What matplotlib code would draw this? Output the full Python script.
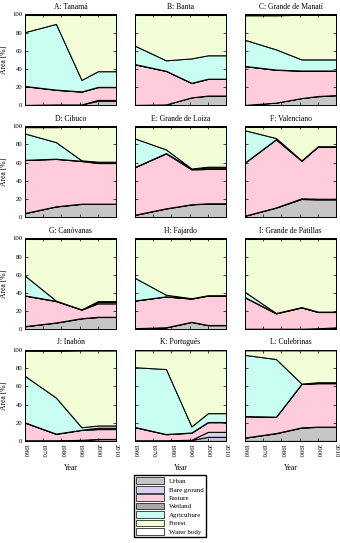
import matplotlib
matplotlib.use("Agg")
from matplotlib import pyplot as plt
from matplotlib.patches import Patch

plt.rcParams['font.family'] = ['Liberation Serif', 'DejaVu Serif']
plt.rcParams['font.size'] = 5

years = [1960, 1977, 1991, 2000, 2010]
watersheds = ["A: Tanamá", "B: Banta", "C: Grande de Manatí",
              "D: Cibuco", "E: Grande de Loíza", "F: Valenciano",
              "G: Canóvanas", "H: Fajardo", "I: Grande de Patillas",
              "J: Inabón", "K: Portugués", "L: Culebrinas"]
classes = ["Urban", "Bare ground", "Pasture", "Wetland",
           "Agriculture", "Forest", "Water body"]
colors = ["#c6c6c6", "#d8d0f2", "#ffccdb", "#a8a8a8",
          "#c8fff0", "#f2ffd6", "#ffffff"]

# Area share [%] per watershed (rows) and year (columns)
urban = [[0.5, 1, 1, 5, 5],
         [0.5, 1, 8.8, 10.5, 10.5],
         [0.5, 3, 8, 10, 11],
         [4.4, 11.7, 14.6, 14.6, 14.6],
         [2.5, 9.5, 14, 15, 15],
         [1.5, 10.5, 20, 19.5, 19.5],
         [3.3, 7.3, 12, 13.5, 13.5],
         [1, 2, 8, 4.5, 4.5],
         [0.5, 0.5, 0.5, 1, 2],
         [0.5, 0.5, 1, 2, 2],
         [0.5, 0.5, 1, 4.5, 4.5],
         [3.5, 8.4, 14.6, 15.4, 15.4]]
bare = [[0, 0, 0, 1, 1],
        [0, 0, 0, 0.3, 0.3],
        [0, 0, 0, 0.3, 0.3],
        [0.3, 0.3, 0.3, 0.3, 0.3],
        [0.3, 0.3, 0.3, 0.3, 0.3],
        [0.3, 0.3, 0.8, 0.8, 0.8],
        [0.3, 0.3, 0.3, 0.3, 0.3],
        [0.3, 0.3, 0.3, 0.3, 0.3],
        [0.2, 0.2, 0.2, 0.2, 0.2],
        [0.2, 0.2, 0.2, 0.2, 0.2],
        [0.2, 0.2, 0.3, 5.5, 5.5],
        [0.3, 0.3, 0.3, 0.3, 0.3]]
pasture = [[20.5, 16, 14, 14, 14],
           [44.5, 36.7, 15.7, 18.2, 18.2],
           [42.5, 36, 30, 27.7, 26.7],
           [58.1, 52, 46.8, 44.6, 44.6],
           [52.2, 60.2, 38.2, 37.7, 37.7],
           [58.2, 74.7, 41.2, 57.2, 57.2],
           [33.4, 23.4, 9.3, 14.7, 14.7],
           [30.2, 33.7, 25.4, 32.2, 32.2],
           [34.3, 16.8, 23.3, 17.8, 16.8],
           [19.3, 7, 10.8, 10.8, 10.8],
           [14.3, 6.6, 7.7, 10.5, 10.5],
           [23.2, 17.7, 47.7, 47.7, 47.7]]
wetland = [[0.3, 0.3, 0.3, 0.3, 0.3],
           [0.3, 0.3, 0.3, 0.3, 0.3],
           [0.3, 0.3, 0.3, 0.3, 0.3],
           [0.3, 0.3, 0.3, 1.5, 1.5],
           [0.3, 0.5, 1, 1.5, 1.5],
           [0.3, 0.3, 0.3, 0.3, 0.3],
           [0.3, 0.3, 0.3, 1.5, 1.5],
           [0.3, 0.3, 0.3, 0.3, 0.3],
           [0.3, 0.3, 0.3, 0.3, 0.3],
           [0.3, 0.3, 0.3, 1.5, 1.5],
           [0.3, 0.3, 0.3, 0.3, 0.3],
           [0.3, 0.3, 0.3, 0.3, 0.3]]
agriculture = [[59.2, 72.2, 12.7, 17.2, 17.2],
               [20.2, 11.5, 26.8, 25.7, 25.7],
               [28.7, 22.2, 12.2, 12.2, 12.2],
               [28.9, 18.2, 0.5, 0, 0],
               [31.2, 4, 0, 1, 1],
               [35.2, 1.2, 0.2, 0.2, 0.2],
               [21.7, 0.2, 0.1, 1, 1],
               [24.7, 1.7, 0.2, 0.2, 0.2],
               [5.7, 0.2, 0.2, 0.2, 0.2],
               [51.1, 39.6, 2.7, 2.5, 2.5],
               [65.7, 71.4, 6.7, 9.7, 9.7],
               [67.2, 63.3, 0.1, 0.8, 0.8]]
forest = [[19, 10, 71.5, 62, 62],
          [34, 50, 47.9, 44.5, 44.5],
          [27, 37.5, 49, 49, 49],
          [7, 16.5, 37, 38.5, 38.5],
          [13, 25, 46, 44, 44],
          [3.7, 12.2, 37, 21.5, 21.5],
          [40.5, 68, 77.5, 68.5, 68.5],
          [43, 61.5, 65.3, 62, 62],
          [58.5, 81.5, 75, 80, 80],
          [27.6, 51.4, 84.5, 82.5, 82.5],
          [18.5, 20.5, 83.5, 69, 69],
          [5, 9.5, 36.5, 35, 35]]
water = [[0.5, 0.5, 0.5, 0.5, 0.5],
         [0.5, 0.5, 0.5, 0.5, 0.5],
         [1, 1, 0.5, 0.5, 0.5],
         [1, 1, 0.5, 0.5, 0.5],
         [0.5, 0.5, 0.5, 0.5, 0.5],
         [0.8, 0.8, 0.5, 0.5, 0.5],
         [0.5, 0.5, 0.5, 0.5, 0.5],
         [0.5, 0.5, 0.5, 0.5, 0.5],
         [0.5, 0.5, 0.5, 0.5, 0.5],
         [1, 1, 0.5, 0.5, 0.5],
         [0.5, 0.5, 0.5, 0.5, 0.5],
         [0.5, 0.5, 0.5, 0.5, 0.5]]

fig = plt.figure(figsize=(3.4, 5.43), dpi=100)

lefts = [0.0735, 0.397, 0.7206]
bottoms = [0.806, 0.600, 0.3935, 0.188]
w, h = 0.268, 0.1676

for i, name in enumerate(watersheds):
    row, col = divmod(i, 3)
    ax = fig.add_axes([lefts[col], bottoms[row], w, h])
    layers = [urban[i], bare[i], pasture[i], wetland[i],
              agriculture[i], forest[i], water[i]]
    ax.stackplot(years, layers, colors=colors, edgecolor='black', linewidth=0.75)
    ax.set_xlim(1960, 2010)
    ax.set_ylim(0, 100)
    ax.set_xticks([1960, 1970, 1980, 1990, 2000, 2010])
    ax.set_yticks([0, 20, 40, 60, 80, 100])
    ax.tick_params(direction='in', top=True, right=True, length=2,
                   width=0.5, labelsize=4.8, pad=2)
    for s in ax.spines.values():
        s.set_linewidth(0.6)
    ax.set_title(name, fontsize=5.5, pad=4)
    if col == 0:
        ax.set_ylabel("Area [%]", fontsize=5.5, labelpad=3)
    else:
        ax.set_yticklabels([])
    if row == 3:
        ax.tick_params(axis='x', labelrotation=270)
        ax.set_xlabel("Year", fontsize=5.5, labelpad=5)
    else:
        ax.set_xticklabels([])

handles = [Patch(facecolor=c, edgecolor='black', linewidth=0.5) for c in colors]
fig.legend(handles, classes, loc='upper center', bbox_to_anchor=(0.5, 0.131),
           fontsize=5, frameon=True, fancybox=False, edgecolor='black',
           framealpha=1, handlelength=4, handleheight=1.1, labelspacing=0.25,
           borderpad=0.3)

fig.savefig('out.png', dpi=100)
